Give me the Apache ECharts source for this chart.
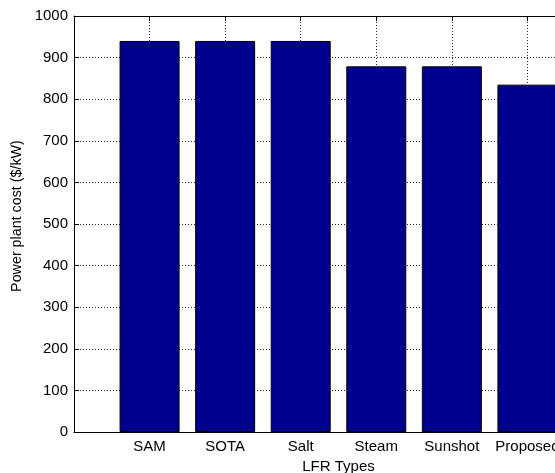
<!DOCTYPE html>
<html>
<head>
<meta charset="utf-8">
<script src="https://cdn.jsdelivr.net/npm/echarts@6/dist/echarts.min.js"></script>
<style>
  html, body { margin: 0; padding: 0; background: #fff; }
  #chart { width: 555px; height: 473px; }
</style>
</head>
<body>
<div id="chart"></div>
<script>
// LFR plant types and their power plant cost ($/kW)
const categories = ['SAM', 'SOTA', 'Salt', 'Steam', 'Sunshot', 'Proposed'];
const costs = [940, 940, 940, 879, 879, 835];
const yTicks = [0, 100, 200, 300, 400, 500, 600, 700, 800, 900, 1000];

const FONT = '"Liberation Sans", Arial, sans-serif';
const gridLine = { show: true, lineStyle: { color: '#222', type: [1, 2], width: 1 } };

// bars sit at positions 1..N on a 0..N+1 value axis
const barData = costs.map((v, i) => [i + 1, v]);

const chart = echarts.init(document.getElementById('chart'), null, { renderer: 'canvas' });
chart.setOption({
  animation: false,
  backgroundColor: '#fff',
  grid: { left: 74, top: 16, width: 529, height: 416, outerBoundsMode: 'none', containLabel: false },
  xAxis: [
    {
      type: 'value',
      min: 0,
      max: categories.length + 1,
      interval: 1,
      position: 'bottom',
      name: 'LFR Types',
      nameLocation: 'middle',
      nameGap: 22,
      nameTextStyle: { fontFamily: FONT, fontSize: 15, color: '#000' },
      axisLine: { show: true, onZero: false, lineStyle: { color: '#000', width: 1 } },
      axisTick: { show: true, inside: true, length: 5, lineStyle: { color: '#000' } },
      axisLabel: {
        show: true,
        margin: 7,
        fontFamily: FONT,
        fontSize: 15,
        color: '#000',
        hideOverlap: false,
        formatter: v => (v >= 1 && v <= categories.length ? categories[v - 1] : '')
      },
      splitLine: gridLine
    },
    {
      type: 'value',
      min: 0,
      max: categories.length + 1,
      interval: 1,
      position: 'top',
      axisLine: { show: true, onZero: false, lineStyle: { color: '#000', width: 1 } },
      axisTick: { show: true, inside: true, length: 5, lineStyle: { color: '#000' } },
      axisLabel: { show: false },
      splitLine: { show: false }
    }
  ],
  yAxis: {
    type: 'value',
    min: yTicks[0],
    max: yTicks[yTicks.length - 1],
    interval: yTicks[1] - yTicks[0],
    name: 'Power plant cost ($/kW)',
    nameLocation: 'middle',
    nameGap: 45,
    nameTextStyle: { fontFamily: FONT, fontSize: 14.3, color: '#000', padding: [0, 0, 0, 16] },
    axisLine: { show: true, onZero: false, lineStyle: { color: '#000', width: 1 } },
    axisTick: { show: true, inside: true, length: 5, lineStyle: { color: '#000' } },
    axisLabel: { margin: 6, fontFamily: FONT, fontSize: 15, color: '#000', formatter: v => String(v) },
    splitLine: gridLine
  },
  series: [{
    type: 'bar',
    xAxisIndex: 0,
    data: barData,
    barWidth: 60,
    itemStyle: { color: '#00008F', borderColor: '#000', borderWidth: 1 }
  }]
});
</script>
</body>
</html>
